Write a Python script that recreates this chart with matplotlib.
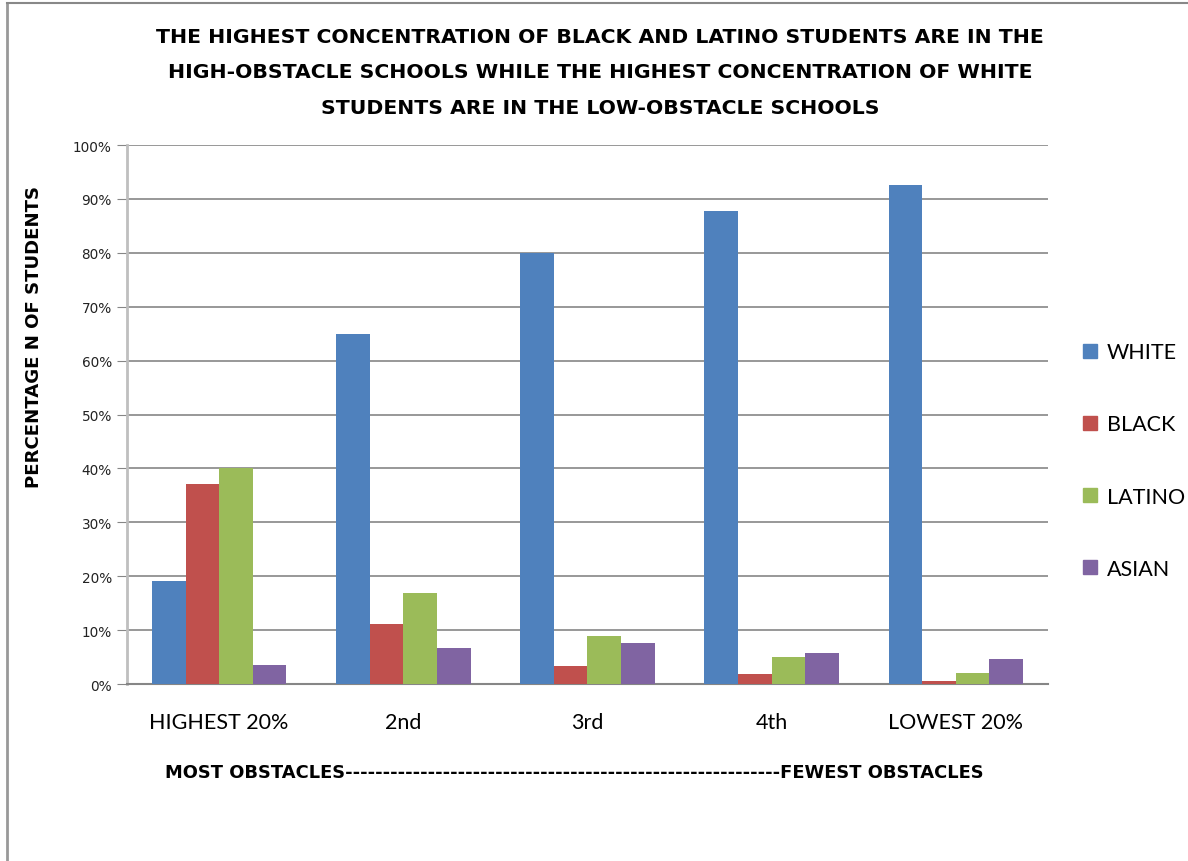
import numpy as np
import matplotlib
matplotlib.use("Agg")
import matplotlib.pyplot as plt
from matplotlib.lines import Line2D

categories = ["HIGHEST 20%", "2nd", "3rd", "4th", "LOWEST 20%"]
series = ["WHITE", "BLACK", "LATINO", "ASIAN"]
white = [19.2, 64.9, 80.0, 87.8, 92.6]
black = [37.2, 11.2, 3.4, 1.8, 0.6]
latino = [40.0, 16.8, 9.0, 5.0, 2.1]
asian = [3.5, 6.6, 7.6, 5.7, 4.6]
colors = ["#4f81bd", "#c0504d", "#9bbb59", "#8064a2"]

bold_font = ["DejaVu Sans"]
reg_font = ["Lato", "DejaVu Sans"]

fig = plt.figure(figsize=(11.88, 8.62), dpi=100)
ax = fig.add_axes([0.107, 0.2053, 0.775, 0.6253])

x = np.arange(len(categories))
group = 0.73
w = group / 4
for i, (name, vals) in enumerate(zip(series, [white, black, latino, asian])):
    ax.bar(x - group / 2 + w * (i + 0.5), vals, width=w, color=colors[i], label=name, zorder=3)

ax.set_xlim(-0.5, len(categories) - 0.5)
ax.set_ylim(0, 100)
ax.set_yticks(range(0, 101, 10))
ax.set_yticklabels([f"{v}%" for v in range(0, 101, 10)], fontsize=9.8, color="#222222")
ax.set_xticks(x)
ax.set_xticklabels(categories, fontsize=15.5, family=reg_font)
ax.tick_params(axis="x", length=0, pad=20)
ax.tick_params(axis="y", length=7, color="#868686", pad=4)
ax.yaxis.grid(True, color="#868686", linewidth=1.2, zorder=0)

for s in ["top", "right"]:
    ax.spines[s].set_visible(False)
ax.spines["left"].set_color("#bfbfbf")
ax.spines["left"].set_linewidth(2)
ax.spines["bottom"].set_color("#868686")
ax.spines["bottom"].set_linewidth(1.5)

fig.text(0.029, 0.609, "PERCENTAGE N OF STUDENTS", rotation=90, ha="center", va="center",
         fontsize=13.1, fontweight="bold", family=bold_font)

title = ("THE HIGHEST CONCENTRATION OF BLACK AND LATINO STUDENTS ARE IN THE\n"
         "HIGH-OBSTACLE SCHOOLS WHILE THE HIGHEST CONCENTRATION OF WHITE\n"
         "STUDENTS ARE IN THE LOW-OBSTACLE SCHOOLS")
fig.text(0.505, 0.968, title, ha="center", va="top", fontsize=14.7, fontweight="bold",
         family=bold_font, linespacing=2.12)

fig.text(0.139, 0.103, "MOST OBSTACLES" + "-" * 58 + "FEWEST OBSTACLES", ha="left", va="center",
         fontsize=12.9, fontweight="bold", family=bold_font)

handles = [plt.Rectangle((0, 0), 1, 1, color=c) for c in colors]
fig.legend(handles, series, loc="center left", bbox_to_anchor=(0.8956, 0.4646), frameon=False,
           handlelength=0.65, handleheight=0.65, labelspacing=2.42, handletextpad=0.45,
           prop={"family": reg_font, "size": 15.5})

# outer frame (left and top edges only)
fig.add_artist(Line2D([0.0058, 0.0058], [0, 0.995], color="#999999", linewidth=2, transform=fig.transFigure))
fig.add_artist(Line2D([0.0058, 1.0], [0.995, 0.995], color="#888888", linewidth=1.5, transform=fig.transFigure))

fig.savefig("out.png", dpi=100, facecolor="white")
